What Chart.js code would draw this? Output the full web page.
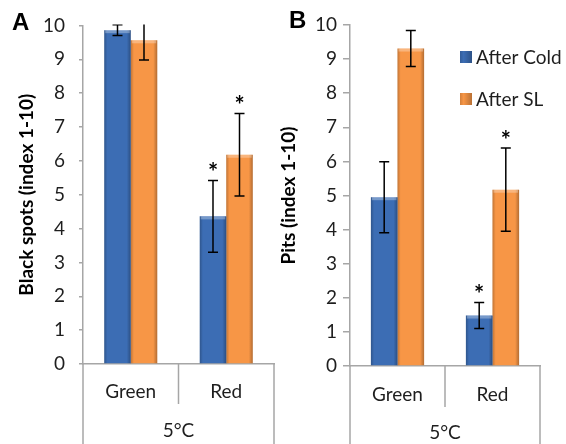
<!DOCTYPE html>
<html><head><meta charset="utf-8">
<script src="https://cdn.jsdelivr.net/npm/chart.js@4/dist/chart.umd.min.js"></script>
<style>
html,body{margin:0;padding:0;background:#fff;}
#wrap{position:relative;width:566px;height:444px;overflow:hidden;background:#fff;}
.panel{position:absolute;top:0;height:444px;}
#pa{left:0;width:283px;}
#pb{left:276px;width:290px;}
.lab{position:absolute;font:bold 24px "Liberation Sans",Arial,sans-serif;color:#000;line-height:1;}
</style></head><body>
<div id="wrap">
<div class="panel" id="pa"><canvas id="ca"></canvas></div>
<div class="panel" id="pb"><canvas id="cb"></canvas></div>
<div class="lab" style="left:12px;top:10px">A</div>
<div class="lab" style="left:289px;top:8px">B</div>
</div>
<script>
// ---- data ----
const categories = ['Green', 'Red'];
const groupLabel = '5°C';
const seriesNames = ['After Cold', 'After SL'];
const yTickValues = [0,1,2,3,4,5,6,7,8,9,10];

const spotsTitle = 'Black spots (index 1-10)';
const spotsCold = [9.86, 4.36];
const spotsColdErr = [0.16, 1.06];
const spotsColdStar = [false, true];
const spotsSL = [9.56, 6.18];
const spotsSLErr = [0.58, 1.22];
const spotsSLStar = [false, true];

const pitsTitle = 'Pits (index 1-10)';
const pitsCold = [4.95, 1.48];
const pitsColdErr = [1.04, 0.38];
const pitsColdStar = [false, true];
const pitsSL = [9.31, 5.17];
const pitsSLErr = [0.53, 1.22];
const pitsSLStar = [false, true];

const BLUE = '#3C6DB4';
const ORANGE = '#F79646';
const AXIS = '#A6A6A6';
const TEXT = '#1E1E1E';
const FONT = 'Lato';

// ---- plugins ----
const shadePlugin = {
  id: 'shade',
  afterDatasetsDraw(chart) {
    const ctx = chart.ctx;
    chart.data.datasets.forEach((ds, di) => {
      const meta = chart.getDatasetMeta(di);
      meta.data.forEach(el => {
        const l = el.x - el.width / 2, w = el.width;
        const t = Math.min(el.y, el.base), h = Math.abs(el.base - el.y);
        const g = ctx.createLinearGradient(l, 0, l + w, 0);
        g.addColorStop(0, 'rgba(0,0,0,0.22)');
        g.addColorStop(0.12, 'rgba(0,0,0,0)');
        g.addColorStop(0.85, 'rgba(0,0,0,0)');
        g.addColorStop(1, 'rgba(0,0,0,0.28)');
        ctx.save();
        ctx.fillStyle = g;
        ctx.fillRect(l, t, w, h);
        ctx.fillStyle = 'rgba(255,255,255,0.3)';
        ctx.fillRect(l + 1, t, w - 2, 3);
        ctx.restore();
      });
    });
  }
};

const errPlugin = {
  id: 'errbars',
  afterDatasetsDraw(chart) {
    const ctx = chart.ctx, ca = chart.chartArea, ys = chart.scales.y;
    chart.data.datasets.forEach((ds, di) => {
      const meta = chart.getDatasetMeta(di);
      meta.data.forEach((el, i) => {
        const v = ds.data[i], e = ds.err[i];
        const yHi = ys.getPixelForValue(v + e), yLo = ys.getPixelForValue(v - e);
        const x = el.x;
        ctx.save();
        ctx.beginPath();
        ctx.rect(ca.left, ca.top - 1, ca.right - ca.left, ca.bottom - ca.top + 1);
        ctx.clip();
        ctx.strokeStyle = '#000';
        ctx.lineWidth = 1.5;
        ctx.beginPath();
        ctx.moveTo(x, yHi); ctx.lineTo(x, yLo);
        ctx.moveTo(x - 5, yHi); ctx.lineTo(x + 5, yHi);
        ctx.moveTo(x - 5, yLo); ctx.lineTo(x + 5, yLo);
        ctx.stroke();
        ctx.restore();
        if (ds.star[i]) {
          ctx.save();
          ctx.fillStyle = '#000';
          ctx.font = 'bold 24px ' + FONT;
          ctx.textAlign = 'center';
          ctx.textBaseline = 'middle';
          ctx.fillText('*', x, Math.max(yHi, ca.top) - 7);
          ctx.restore();
        }
      });
    });
  }
};

const xDecoPlugin = {
  id: 'xdeco',
  afterDraw(chart, args, opts) {
    const ctx = chart.ctx, ca = chart.chartArea;
    const xs = chart.scales.x;
    ctx.save();
    ctx.strokeStyle = AXIS;
    ctx.lineWidth = 1.5;
    ctx.beginPath();
    ctx.moveTo(ca.left, ca.bottom); ctx.lineTo(ca.left, chart.height);
    ctx.moveTo(ca.right, ca.bottom); ctx.lineTo(ca.right, chart.height);
    for (let i = 1; i < categories.length; i++) {
      const xm = (xs.getPixelForValue(i - 1) + xs.getPixelForValue(i)) / 2;
      ctx.moveTo(xm, ca.bottom); ctx.lineTo(xm, ca.bottom + opts.divLen);
    }
    ctx.stroke();
    ctx.restore();
  }
};

const legendPlugin = {
  id: 'customLegend',
  afterDraw(chart, args, opts) {
    if (!opts.show) return;
    const ctx = chart.ctx;
    chart.data.datasets.forEach((ds, di) => {
      const y = opts.y0 + di * opts.dy;
      const x = opts.x0;
      ctx.save();
      ctx.fillStyle = ds.backgroundColor;
      ctx.fillRect(x, y - 6, 12, 12);
      const g = ctx.createLinearGradient(x, 0, x + 12, 0);
      g.addColorStop(0, 'rgba(0,0,0,0.15)');
      g.addColorStop(0.3, 'rgba(0,0,0,0)');
      g.addColorStop(1, 'rgba(0,0,0,0.25)');
      ctx.fillStyle = g;
      ctx.fillRect(x, y - 6, 12, 12);
      ctx.fillStyle = TEXT;
      ctx.font = '19px ' + FONT;
      ctx.textAlign = 'left';
      ctx.textBaseline = 'middle';
      ctx.fillText(ds.label, x + 16, y + 1);
      ctx.restore();
    });
  }
};

function makeChart(canvasId, cfg) {
  return new Chart(document.getElementById(canvasId), {
    type: 'bar',
    data: {
      labels: categories,
      datasets: [
        { label: seriesNames[0], data: cfg.cold, err: cfg.coldErr, star: cfg.coldStar,
          backgroundColor: BLUE, borderWidth: 0, categoryPercentage: cfg.catPct, barPercentage: 1 },
        { label: seriesNames[1], data: cfg.sl, err: cfg.slErr, star: cfg.slStar,
          backgroundColor: ORANGE, borderWidth: 0, categoryPercentage: cfg.catPct, barPercentage: 1 }
      ]
    },
    options: {
      responsive: true,
      maintainAspectRatio: false,
      animation: false,
      devicePixelRatio: 1,
      layout: { padding: { left: 0, right: cfg.padRight, top: cfg.padTop, bottom: 0 } },
      plugins: {
        legend: { display: false },
        tooltip: { enabled: false },
        xdeco: { divLen: cfg.divLen },
        customLegend: cfg.legend
      },
      scales: {
        x: {
          offset: true,
          grid: { display: false, drawTicks: false },
          border: { display: true, color: AXIS, width: 1.5 },
          ticks: { font: { family: FONT, size: 19 }, color: TEXT, padding: cfg.xTickPad },
          title: { display: true, text: groupLabel, font: { family: FONT, size: 19 }, color: TEXT,
                   padding: { top: 0, bottom: cfg.xTitlePad } },
          afterFit: s => { s.height = cfg.xHeight; }
        },
        y: {
          min: 0, max: 10,
          afterBuildTicks: s => { s.ticks = yTickValues.map(v => ({ value: v })); },
          grid: { drawOnChartArea: false, drawTicks: true, tickLength: cfg.tickLen, color: AXIS, lineWidth: 1.5 },
          border: { display: true, color: AXIS, width: 1.5 },
          ticks: { font: { family: FONT, size: 19 }, color: TEXT, padding: cfg.yTickPad },
          title: { display: true, text: cfg.title, font: { family: FONT, size: 19, weight: 'bold' }, color: '#000',
                   padding: { top: cfg.yTitlePad, bottom: 0 } },
          afterFit: s => { s.width = cfg.yWidth; }
        }
      }
    },
    plugins: [shadePlugin, errPlugin, xDecoPlugin, legendPlugin]
  });
}

makeChart('ca', {
  cold: spotsCold, coldErr: spotsColdErr, coldStar: spotsColdStar,
  sl: spotsSL, slErr: spotsSLErr, slStar: spotsSLStar,
  title: spotsTitle, catPct: 0.555,
  padRight: 9, padTop: 23, xHeight: 80, yWidth: 83,
  xTickPad: 16, xTitlePad: 2, divLen: 40, tickLen: 4, yTickPad: 14, yTitlePad: 15,
  legend: { show: false }
});

makeChart('cb', {
  cold: pitsCold, coldErr: pitsColdErr, coldStar: pitsColdStar,
  sl: pitsSL, slErr: pitsSLErr, slStar: pitsSLStar,
  title: pitsTitle, catPct: 0.56,
  padRight: 26, padTop: 25, xHeight: 78, yWidth: 74,
  xTickPad: 17, xTitlePad: 0, divLen: 41, tickLen: 7, yTickPad: 6, yTitlePad: 1,
  legend: { show: true, x0: 184, y0: 57, dy: 42 }
});
</script>
</body></html>
